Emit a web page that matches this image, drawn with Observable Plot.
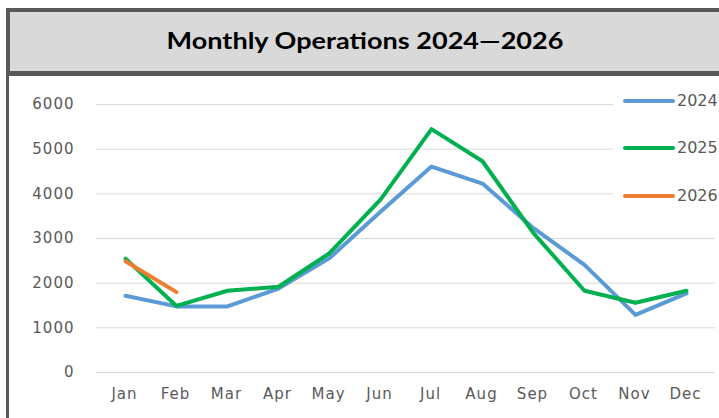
<!DOCTYPE html>
<html>
<head>
<meta charset="utf-8">
<script src="https://cdn.jsdelivr.net/npm/d3@7"></script>
<script src="https://cdn.jsdelivr.net/npm/@observablehq/plot@0.6"></script>
<style>
  html, body { margin: 0; padding: 0; background: #fff; }
  #wrap { position: relative; width: 719px; height: 418px; overflow: hidden; background: #fff; }
  #band { position: absolute; left: 6px; top: 8px; width: 760px; height: 68px; box-sizing: border-box;
          background: #d9d9d9; border: 4px solid #595959; border-bottom-width: 5px; }
  #leftline { position: absolute; left: 6px; top: 70px; width: 3px; height: 360px; background: #595959; }
  #title { position: absolute; left: 0; top: 0; }
  #chart { position: absolute; left: 0; top: 76px; }
  #chart svg text { letter-spacing: 1px; }
  #legend { position: absolute; left: 613px; top: 86px; width: 106px; height: 125px; background: #fff;
            font-family: "DejaVu Sans", sans-serif; font-size: 16px; color: #595959; }
  .li { position: absolute; left: 0; width: 106px; height: 20px; }
  .li .sw { position: absolute; left: 10px; top: 8px; width: 52px; height: 4px; border-radius: 2px; }
  .li .lb { position: absolute; left: 64px; top: 0; line-height: 20px; white-space: nowrap; }
</style>
</head>
<body>
<div id="wrap">
  <div id="band"></div>
  <div id="leftline"></div>
  <svg id="title" width="719" height="76">
    <text x="365" y="48.5" text-anchor="middle" font-family="Lato, sans-serif" font-weight="700" font-size="23"
          fill="#000" textLength="397" lengthAdjust="spacingAndGlyphs">Monthly Operations 2024—2026</text>
  </svg>
  <div id="chart"></div>
  <div id="legend"></div>
</div>
<script>
const months = ["Jan","Feb","Mar","Apr","May","Jun","Jul","Aug","Sep","Oct","Nov","Dec"];
const series = ["2024","2025","2026"];
const colors = ["#5b9bd5","#00b050","#ed7d31"];
const s2024 = [1720,1480,1480,1880,2560,3600,4610,4230,3230,2410,1290,1770];
const s2025 = [2550,1490,1830,1920,2670,3870,5450,4730,3120,1830,1560,1830];
const s2026 = [2490,1800];
const yTicks = [0,1000,2000,3000,4000,5000,6000];

const data = [];
[s2024, s2025, s2026].forEach((arr, i) => {
  arr.forEach((v, j) => data.push({series: series[i], month: months[j], value: v}));
});

const chart = Plot.plot({
  width: 719,
  height: 342,
  marginLeft: 96,
  marginRight: 4,
  marginTop: 28,
  marginBottom: 46,
  style: { fontFamily: "DejaVu Sans, sans-serif", fontSize: "15px", color: "#595959", background: "transparent" },
  x: { type: "point", domain: months, padding: 0.5, label: null },
  y: { domain: [0, 6000], label: null },
  color: { domain: series, range: colors },
  marks: [
    Plot.gridY(yTicks, { stroke: "#d9d9d9", strokeOpacity: 1, strokeWidth: 1 }),
    Plot.axisY(yTicks, { tickSize: 0, tickPadding: 22, tickFormat: d => String(d), fontSize: 15 }),
    Plot.axisX(months, { tickSize: 0, tickPadding: 16, fontSize: 15, dx: -1 }),
    Plot.line(data, { x: "month", y: "value", z: "series", stroke: "series", strokeWidth: 4,
                      strokeLinecap: "round", strokeLinejoin: "round" })
  ]
});
document.getElementById("chart").appendChild(chart);

const legend = document.getElementById("legend");
const legendTops = [5, 52, 100];
series.forEach((s, i) => {
  const item = document.createElement("div");
  item.className = "li";
  item.style.top = legendTops[i] + "px";
  item.innerHTML = `<div class="sw" style="background:${colors[i]}"></div><div class="lb">${s}</div>`;
  legend.appendChild(item);
});
</script>
</body>
</html>
